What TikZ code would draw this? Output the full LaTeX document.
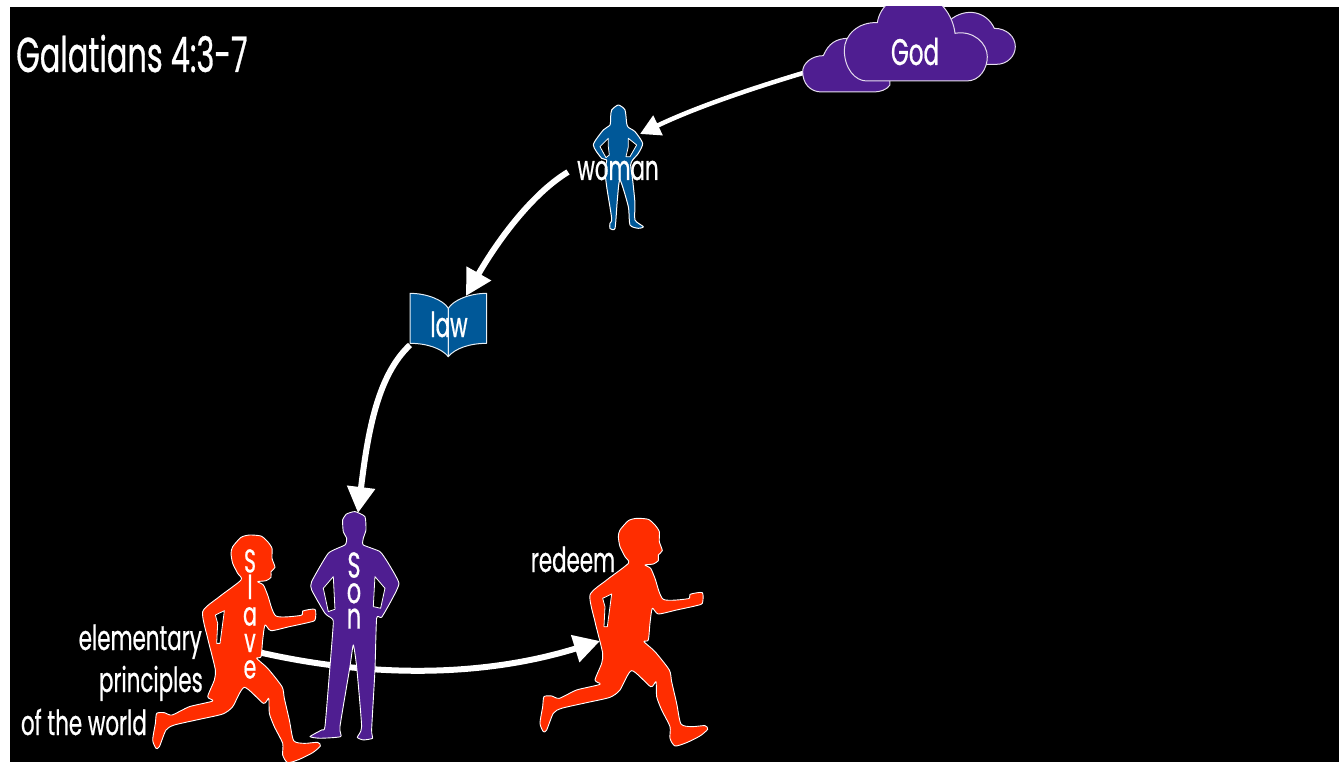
\documentclass[tikz,border=0pt]{standalone}
\usepackage{fontspec}
\setmainfont[FakeStretch=0.62,FakeBold=0.6]{Poppins}
\usetikzlibrary{arrows.meta}
\definecolor{gpurple}{RGB}{79,30,145}
\definecolor{gorange}{RGB}{255,45,0}
\definecolor{gblue}{RGB}{0,88,152}
\newcommand{\lbl}[2]{\fontsize{#1pt}{#2pt}\selectfont}
\newcommand{\runnershape}[2]{%
\begin{scope}[shift={(#1,#2)},x=0.3333pt,y=-0.3333pt]
\path[runnerfill] plot[smooth cycle,tension=0.4] coordinates {(300,90)(325,62)(350,55)(385,58)(405,75)(418,95)(418,125)(427,152)(415,165)(415,182)(400,192)(375,195)(392,205)(405,235)(430,298)(505,296)(510,283)(547,278)(547,310)(525,318)(470,330)(415,342)(397,325)(390,370)(385,420)(372,425)(405,455)(448,510)(455,545)(470,610)(483,672)(515,680)(555,677)(563,688)(540,708)(500,728)(465,738)(450,715)(450,680)(425,630)(410,590)(408,545)(392,560)(335,512)(300,570)(270,592)(200,608)(125,625)(100,640)(80,690)(70,695)(60,670)(68,620)(72,590)(95,588)(118,595)(170,570)(240,553)(225,540)(245,490)(248,460)(235,405)(225,365)(210,285)(260,240)(325,190)(315,170)(300,140)(295,110)};
\path[holefill] (248,295)--(275,282)--(262,380)--(252,380)--(255,320)--cycle;
\end{scope}}
\tikzset{
  x=1pt,y=-1pt,
  runnerfill/.style={fill=gorange,draw=white,line width=0.9pt,line join=round},
  holefill/.style={fill=black,draw=white,line width=0.8pt,line join=round},
  sonfill/.style={fill=gpurple,draw=white,line width=0.9pt,line join=round},
  womanfill/.style={fill=gblue,draw=white,line width=1pt,line join=round},
  cloudfill/.style={fill=gpurple,draw=white!85!gpurple,line width=1pt,line join=round},
  pagefill/.style={fill=gblue,draw=white!90!gblue,line width=1pt,line join=round},
  link/.style={draw=white,line width=#1,-{Triangle[length=26pt,width=27pt]}},
  txt/.style={text=white,inner sep=0pt,font=\lbl{34.5}{34.5}},
}
\begin{document}
\begin{tikzpicture}
\useasboundingbox (0,0) rectangle (1339,762);
\fill[white] (0,0) rectangle (1339,762);
\begin{scope}
\clip (10,7) rectangle (1339,762);
\fill[black] (10,7) rectangle (1339,762);

\coordinate (godout) at (803,73);
\coordinate (womanin) at (640,134);
\coordinate (womanout) at (568,172);
\coordinate (lawin) at (466,296);
\coordinate (lawout) at (410,345);
\coordinate (sonin) at (358,513);
\coordinate (slaveout) at (258,652);
\coordinate (redeemin) at (600,641);

\draw[white,line width=4.5pt,-{Triangle[length=20pt,width=21pt]}] (godout) .. controls (740,92) and (690,110) .. (womanin);
\draw[link=6pt] (womanout) .. controls (530,195) and (495,245) .. (lawin);
\draw[link=6pt] (lawout) .. controls (378,375) and (368,430) .. (sonin);
\draw[link=6pt] (slaveout) .. controls (380,680) and (490,675) .. (redeemin);

% clouds
\begin{scope}[shift={(790,0)},x=0.3333pt,y=-0.3333pt]
\path[cloudfill] (480,60) .. controls (530,20) and (590,35) .. (613,85) .. controls (650,85) and (676,110) .. (676,140) .. controls (676,170) and (650,193) .. (620,193) -- (500,193) -- cycle;
\path[cloudfill] (300,255) .. controls (290,270) and (270,276) .. (250,276) -- (95,276) .. controls (60,276) and (38,250) .. (38,215) .. controls (38,190) and (65,167) .. (100,167) .. controls (115,130) and (140,115) .. (175,115) -- (300,150) -- cycle;
\path[cloudfill] (230,243) -- (530,243) .. controls (570,243) and (592,205) .. (592,170) .. controls (592,130) and (550,90) .. (495,100) .. controls (490,50) and (450,-20) .. (370,-20) .. controls (320,-20) and (270,15) .. (262,68) .. controls (205,65) and (163,105) .. (163,150) .. controls (163,205) and (195,243) .. (230,243) -- cycle;
\end{scope}

% woman
\begin{scope}[shift={(560,90)},x=0.3333pt,y=-0.3333pt]
\path[womanfill] plot[smooth cycle,tension=0.4] coordinates {(175,45)(195,60)(200,100)(205,112)(225,125)(248,160)(235,190)(218,210)(212,225)(218,270)(225,340)(225,390)(250,410)(235,415)(210,405)(205,350)(180,270)(172,330)(165,415)(150,415)(150,400)(155,385)(140,290)(135,240)(140,210)(125,205)(100,165)(130,120)(150,105)(152,80)(155,60)};
\path[holefill] (145,145)--(120,170)--(138,203)--(148,195)--(145,170)--cycle;
\path[holefill] (205,145)--(230,165)--(210,200)--(198,200)--(205,170)--cycle;
\end{scope}

% book
\begin{scope}[shift={(390,280)},x=0.3333pt,y=-0.3333pt]
\path[pagefill] (60,40) .. controls (110,40) and (160,60) .. (175,85) -- (175,230) .. controls (155,205) and (110,190) .. (60,190) -- cycle;
\path[pagefill] (290,40) .. controls (240,40) and (190,60) .. (175,85) -- (175,230) .. controls (195,205) and (240,190) .. (290,190) -- cycle;
\end{scope}

% slave and son
\runnershape{132.7}{516.7}
\begin{scope}[x=0.3333pt,y=-0.3333pt,shift={(0,1500)}]
\path[sonfill] plot[smooth cycle,tension=0.3] coordinates {(1065,35)(1095,50)(1098,90)(1090,115)(1090,135)(1140,155)(1165,190)(1197,250)(1175,300)(1145,352)(1130,355)(1125,510)(1115,690)(1118,715)(1090,720)(1072,712)(1085,680)(1070,500)(1060,435)(1050,500)(1020,680)(1022,710)(960,715)(930,710)(965,690)(975,680)(990,500)(1000,370)(995,355)(975,340)(935,270)(935,245)(985,160)(1035,135)(1040,115)(1030,95)(1028,60)(1040,42)};
\path[holefill] (1000,230)--(970,265)--(985,335)--(1005,328)--cycle;
\path[holefill] (1125,230)--(1155,265)--(1142,325)--(1120,320)--cycle;
\end{scope}

\runnershape{520}{500}

% labels
\node[txt,anchor=base west,font=\lbl{49}{49}] (title) at (16,72) {Galatians 4:3-7};
\node[txt,anchor=base,font=\lbl{37}{37}] (god) at (915,65) {God};
\node[txt,anchor=base] (woman) at (618,180) {woman};
\node[txt,anchor=base] (law) at (449,337) {law};
\node[txt,anchor=base] (redeem) at (573,572) {redeem};
\node[txt,anchor=base east] (elem) at (202,650) {elementary};
\node[txt,anchor=base east] (princ) at (203,692) {principles};
\node[txt,anchor=base east] (world) at (147,735) {of the world};
\node[txt,anchor=north,align=center,font=\lbl{33}{26.5}] (slave) at (250,549) {S\\l\\a\\v\\e};
\node[txt,anchor=north,align=center,font=\lbl{36}{25.5}] (son) at (354,552) {S\\o\\n};
\end{scope}
\end{tikzpicture}
\end{document}
